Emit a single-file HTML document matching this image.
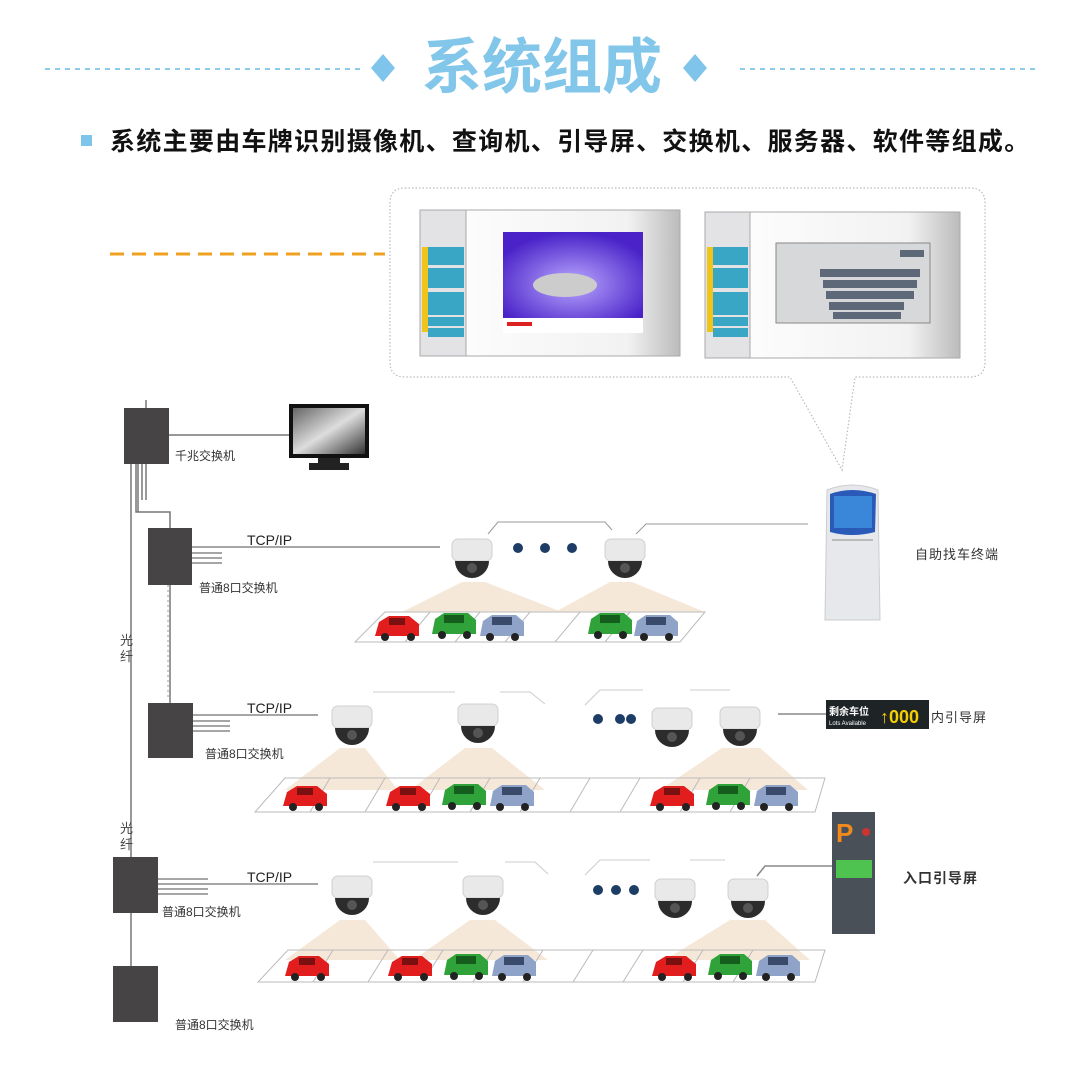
<!DOCTYPE html>
<html><head><meta charset="utf-8"><style>
html,body{margin:0;padding:0;background:#fff;}
svg{display:block}
text{font-family:"Liberation Sans","Noto Sans CJK SC",sans-serif;}
</style></head><body>
<svg width="1080" height="1082" viewBox="0 0 1080 1082" xmlns="http://www.w3.org/2000/svg">
<defs>
<linearGradient id="scr" x1="0" y1="0" x2="1" y2="0"><stop offset="0" stop-color="#fff"/><stop offset="0.8" stop-color="#f2f2f2"/><stop offset="1" stop-color="#bbb"/></linearGradient>
<linearGradient id="mon" x1="0" y1="0" x2="1" y2="1"><stop offset="0" stop-color="#666"/><stop offset="0.5" stop-color="#ddd"/><stop offset="1" stop-color="#333"/></linearGradient>
<radialGradient id="pur" cx="0.5" cy="0.6" r="0.6"><stop offset="0" stop-color="#b9a8ff"/><stop offset="1" stop-color="#4a22c8"/></radialGradient>
<g id="cam">
<rect x="-20" y="-22" width="40" height="22" rx="6" fill="#e9e9e9" stroke="#d0d0d0"/>
<path d="M-17 0 A17 17 0 0 0 17 0 Z" fill="#2c2c2c"/>
<circle cx="0" cy="7" r="5" fill="#555"/>
</g>
<g id="carR"><path d="M0 22 L4 8 L14 2 L34 2 L44 10 L44 22 Z" fill="#e21d1d"/><rect x="14" y="4" width="16" height="7" fill="#7a1010"/><circle cx="10" cy="23" r="4" fill="#222"/><circle cx="36" cy="23" r="4" fill="#222"/></g>
<g id="carG"><path d="M0 22 L3 7 L12 1 L36 1 L44 8 L44 22 Z" fill="#2fa33a"/><rect x="12" y="3" width="20" height="8" fill="#155d1c"/><circle cx="10" cy="23" r="4" fill="#222"/><circle cx="35" cy="23" r="4" fill="#222"/></g>
<g id="carB"><path d="M0 22 L3 7 L12 1 L36 1 L44 8 L44 22 Z" fill="#8fa3c8"/><rect x="12" y="3" width="20" height="8" fill="#3a4a6a"/><circle cx="10" cy="23" r="4" fill="#222"/><circle cx="35" cy="23" r="4" fill="#222"/></g>
</defs>

<line x1="45" y1="69" x2="360" y2="69" stroke="#8ccbea" stroke-width="2" stroke-dasharray="5,5"/>
<line x1="740" y1="69" x2="1035" y2="69" stroke="#8ccbea" stroke-width="2" stroke-dasharray="5,5"/>
<polygon points="383,54 395,68 383,82 371,68" fill="#7fc4ea"/>
<polygon points="695,54 707,68 695,82 683,68" fill="#7fc4ea"/>
<text x="542" y="88" font-size="60" font-weight="bold" fill="#82c6ea" text-anchor="middle">系统组成</text>
<rect x="81" y="135" width="11" height="11" fill="#7fc4ea"/>
<text x="110" y="150" font-size="25" font-weight="bold" fill="#111" letter-spacing="1.3">系统主要由车牌识别摄像机、查询机、引导屏、交换机、服务器、软件等组成。</text>

<line x1="110" y1="254" x2="385" y2="254" stroke="#f0a020" stroke-width="3" stroke-dasharray="14,8"/>

<path d="M405 188 L970 188 Q985 188 985 203 L985 362 Q985 377 970 377 L855 377 L842 470 L790 377 L405 377 Q390 377 390 362 L390 203 Q390 188 405 188 Z" fill="none" stroke="#bbb" stroke-width="1.2" stroke-dasharray="1.5,2"/>
<rect x="420" y="210" width="260" height="146" fill="url(#scr)" stroke="#aaa"/>
<rect x="420" y="210" width="46" height="146" fill="#e3e3e6" stroke="#aaa"/>
<rect x="422" y="247" width="6" height="85" fill="#f0c419"/>
<rect x="428" y="247" width="36" height="18" fill="#3aa6c6"/>
<rect x="428" y="268" width="36" height="20" fill="#3aa6c6"/>
<rect x="428" y="292" width="36" height="23" fill="#3aa6c6"/>
<rect x="428" y="317" width="36" height="9" fill="#3aa6c6"/>
<rect x="428" y="328" width="36" height="9" fill="#3aa6c6"/>
<rect x="503" y="232" width="140" height="86" fill="url(#pur)"/>
<ellipse cx="565" cy="285" rx="32" ry="12" fill="#ccc"/>
<rect x="503" y="318" width="140" height="15" fill="#fff"/>
<rect x="507" y="322" width="25" height="4" fill="#d22"/>
<rect x="705" y="212" width="255" height="146" fill="url(#scr)" stroke="#aaa"/>
<rect x="705" y="212" width="45" height="146" fill="#e3e3e6" stroke="#aaa"/>
<rect x="707" y="247" width="6" height="85" fill="#f0c419"/>
<rect x="713" y="247" width="35" height="18" fill="#3aa6c6"/>
<rect x="713" y="268" width="35" height="20" fill="#3aa6c6"/>
<rect x="713" y="292" width="35" height="23" fill="#3aa6c6"/>
<rect x="713" y="317" width="35" height="9" fill="#3aa6c6"/>
<rect x="713" y="328" width="35" height="9" fill="#3aa6c6"/>
<rect x="776" y="243" width="154" height="80" fill="#d7d8da" stroke="#888"/>
<g fill="#5d6878"><rect x="820" y="269" width="100" height="8"/><rect x="823" y="280" width="94" height="8"/><rect x="826" y="291" width="88" height="8"/><rect x="829" y="302" width="75" height="8"/><rect x="833" y="312" width="68" height="7"/><rect x="900" y="250" width="24" height="7"/></g>

<g stroke="#777" stroke-width="1.5" fill="none">
<line x1="131" y1="463" x2="131" y2="857"/>
<line x1="146" y1="400" x2="146" y2="408"/>
<line x1="138" y1="463" x2="138" y2="512"/><line x1="142" y1="463" x2="142" y2="500"/><line x1="146" y1="463" x2="146" y2="500"/>
<path d="M136 463 L136 512 L170 512 L170 528"/>
<path d="M168 435 L290 435"/>
<line x1="170" y1="585" x2="170" y2="703"/>
<line x1="131" y1="913" x2="131" y2="966"/>
</g>
<line x1="168" y1="585" x2="168" y2="700" stroke="#999" stroke-dasharray="2,3"/>

<rect x="124" y="408" width="45" height="56" fill="#464444"/>
<text x="175" y="460" font-size="12" fill="#333">千兆交换机</text>
<rect x="289" y="404" width="80" height="54" fill="#111"/>
<rect x="293" y="408" width="72" height="46" fill="url(#mon)"/>
<rect x="318" y="458" width="22" height="6" fill="#222"/>
<rect x="309" y="463" width="40" height="7" fill="#222"/>

<rect x="148" y="528" width="44" height="57" fill="#464444"/>
<rect x="148" y="703" width="45" height="55" fill="#464444"/>
<rect x="113" y="857" width="45" height="56" fill="#464444"/>
<rect x="113" y="966" width="45" height="56" fill="#464444"/>
<g stroke="#888" stroke-width="1.5">
<line x1="192" y1="547" x2="440" y2="547"/><line x1="192" y1="553" x2="222" y2="553"/><line x1="192" y1="558" x2="222" y2="558"/><line x1="192" y1="563" x2="222" y2="563"/>
<line x1="193" y1="715" x2="318" y2="715"/><line x1="193" y1="721" x2="230" y2="721"/><line x1="193" y1="726" x2="230" y2="726"/><line x1="193" y1="731" x2="230" y2="731"/>
<line x1="158" y1="884" x2="318" y2="884"/><line x1="158" y1="879" x2="208" y2="879"/><line x1="158" y1="889" x2="208" y2="889"/><line x1="158" y1="894" x2="208" y2="894"/>
</g>
<g font-size="14" fill="#222">
<text x="247" y="545">TCP/IP</text><text x="247" y="713">TCP/IP</text><text x="247" y="882">TCP/IP</text>
</g>
<g font-size="12" fill="#333">
<text x="199" y="592">普通8口交换机</text>
<text x="205" y="758">普通8口交换机</text>
<text x="162" y="916">普通8口交换机</text>
<text x="175" y="1029">普通8口交换机</text>
</g>
<g font-size="13" fill="#444">
<text x="120" y="645">光</text><text x="120" y="661">纤</text>
<text x="120" y="833">光</text><text x="120" y="849">纤</text>
</g>

<g stroke="#999" stroke-width="1" fill="none">
<polyline points="488,534 498,522 605,522 612,530"/>
<polyline points="636,534 646,524 808,524"/>
</g>
<polygon points="462,582 485,582 562,612 402,612" fill="#f6e8d8"/>
<polygon points="610,582 632,582 705,612 555,612" fill="#f6e8d8"/>
<g stroke="#bbb" fill="none"><polygon points="385,612 705,612 680,642 355,642"/>
<line x1="430" y1="612" x2="405" y2="642"/><line x1="480" y1="612" x2="455" y2="642"/><line x1="530" y1="612" x2="505" y2="642"/><line x1="580" y1="612" x2="555" y2="642"/><line x1="630" y1="612" x2="605" y2="642"/></g>
<use href="#carR" x="375" y="614"/><use href="#carG" x="432" y="612"/><use href="#carB" x="480" y="614"/><use href="#carG" x="588" y="612"/><use href="#carB" x="634" y="614"/>
<use href="#cam" x="472" y="561"/><use href="#cam" x="625" y="561"/>
<g fill="#1d3d66"><circle cx="518" cy="548" r="5"/><circle cx="545" cy="548" r="5"/><circle cx="572" cy="548" r="5"/></g>
<path d="M827 490 Q852 480 878 490 L880 620 L825 620 Z" fill="#e6e8ec" stroke="#ccc"/>
<path d="M830 494 Q852 486 876 494 L875 532 Q852 538 830 532 Z" fill="#2a5ab8"/>
<rect x="834" y="496" width="38" height="32" fill="#3a86d8"/>
<line x1="832" y1="540" x2="873" y2="540" stroke="#bbb" stroke-width="2"/>
<text x="915" y="559" font-size="13" fill="#333" letter-spacing="1">自助找车终端</text>

<g stroke="#ccc" stroke-width="1" fill="none">
<polyline points="373,692 455,692"/><polyline points="500,692 530,692 545,704"/>
<polyline points="585,705 600,690 643,690"/><polyline points="690,690 730,690"/>
</g>
<line x1="778" y1="714" x2="826" y2="714" stroke="#888" stroke-width="1.5"/>
<g fill="#f6e8d8">
<polygon points="340,748 365,748 398,790 285,790"/>
<polygon points="465,748 492,748 545,790 410,790"/>
<polygon points="722,748 760,748 808,790 660,790"/>
</g>
<g stroke="#bbb" fill="none"><polygon points="285,778 825,778 815,812 255,812"/>
<line x1="330" y1="778" x2="310" y2="812"/><line x1="385" y1="778" x2="365" y2="812"/><line x1="440" y1="778" x2="420" y2="812"/><line x1="490" y1="778" x2="470" y2="812"/><line x1="540" y1="778" x2="520" y2="812"/><line x1="590" y1="778" x2="570" y2="812"/><line x1="640" y1="778" x2="620" y2="812"/><line x1="700" y1="778" x2="680" y2="812"/><line x1="750" y1="778" x2="730" y2="812"/></g>
<use href="#carR" x="283" y="784"/><use href="#carR" x="386" y="784"/><use href="#carG" x="442" y="783"/><use href="#carB" x="490" y="784"/><use href="#carR" x="650" y="784"/><use href="#carG" x="706" y="783"/><use href="#carB" x="754" y="784"/>
<use href="#cam" x="352" y="728"/><use href="#cam" x="478" y="726"/><use href="#cam" x="672" y="730"/><use href="#cam" x="740" y="729"/>
<g fill="#1d3d66"><circle cx="598" cy="719" r="5"/><circle cx="620" cy="719" r="5"/><circle cx="631" cy="719" r="5"/></g>
<rect x="826" y="700" width="103" height="29" fill="#1e2426"/>
<text x="829" y="715" font-size="10" fill="#fff" font-weight="bold">剩余车位</text>
<text x="829" y="725" font-size="6" fill="#fff">Lots Available</text>
<text x="880" y="723" font-size="18" fill="#f5d000" font-weight="bold">↑000</text>
<text x="931" y="722" font-size="13" fill="#333" letter-spacing="1">内引导屏</text>

<g stroke="#ccc" stroke-width="1" fill="none">
<polyline points="373,862 458,862"/><polyline points="505,862 535,862 548,874"/>
<polyline points="585,875 600,860 650,860"/><polyline points="690,860 725,860"/>
</g>
<polyline points="757,876 765,866 832,866" stroke="#888" stroke-width="1.5" fill="none"/>
<g fill="#f6e8d8">
<polygon points="340,920 365,920 400,960 285,960"/>
<polygon points="470,920 495,920 548,960 413,960"/>
<polygon points="730,920 765,920 810,960 665,960"/>
</g>
<g stroke="#bbb" fill="none"><polygon points="288,950 825,950 815,982 258,982"/>
<line x1="333" y1="950" x2="313" y2="982"/><line x1="388" y1="950" x2="368" y2="982"/><line x1="443" y1="950" x2="423" y2="982"/><line x1="493" y1="950" x2="473" y2="982"/><line x1="543" y1="950" x2="523" y2="982"/><line x1="593" y1="950" x2="573" y2="982"/><line x1="643" y1="950" x2="623" y2="982"/><line x1="703" y1="950" x2="683" y2="982"/><line x1="753" y1="950" x2="733" y2="982"/></g>
<use href="#carR" x="285" y="954"/><use href="#carR" x="388" y="954"/><use href="#carG" x="444" y="953"/><use href="#carB" x="492" y="954"/><use href="#carR" x="652" y="954"/><use href="#carG" x="708" y="953"/><use href="#carB" x="756" y="954"/>
<use href="#cam" x="352" y="898"/><use href="#cam" x="483" y="898"/><use href="#cam" x="675" y="901"/><use href="#cam" x="748" y="901"/>
<g fill="#1d3d66"><circle cx="598" cy="890" r="5"/><circle cx="616" cy="890" r="5"/><circle cx="634" cy="890" r="5"/></g>
<rect x="832" y="812" width="43" height="122" fill="#4a5058"/>
<text x="836" y="842" font-size="26" fill="#f08a1c" font-weight="bold">P</text>
<circle cx="866" cy="832" r="4" fill="#c33"/>
<rect x="836" y="860" width="36" height="18" fill="#4fc34f"/>
<text x="903" y="883" font-size="14" fill="#333" font-weight="bold" letter-spacing="1">入口引导屏</text>
</svg>
</body></html>
